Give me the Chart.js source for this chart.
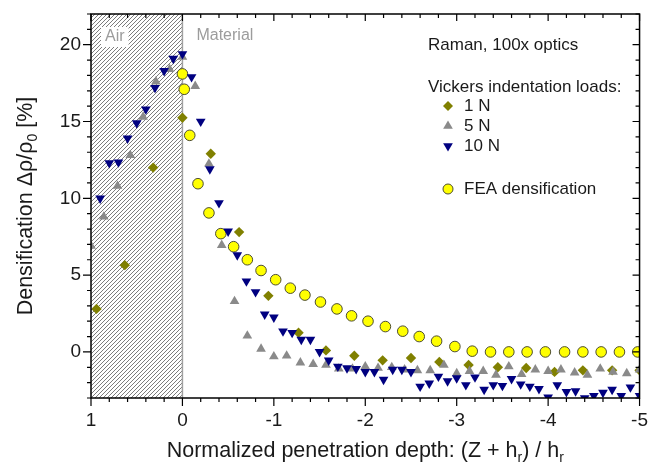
<!DOCTYPE html>
<html><head><meta charset="utf-8">
<script src="https://cdn.jsdelivr.net/npm/chart.js@4/dist/chart.umd.min.js"></script>
<style>html,body{margin:0;padding:0;background:#fff}</style>
</head><body>
<canvas id="c" width="651" height="464"></canvas>
<script>
// ---- data ----
const X_TICKS = [1, 0, -1, -2, -3, -4, -5];
const Y_TICKS = [0, 5, 10, 15, 20];

const xFEA = [0, -0.02, -0.08, -0.17, -0.29, -0.42, -0.56, -0.71, -0.86, -1.02, -1.18, -1.34, -1.51, -1.69, -1.85, -2.03, -2.22, -2.41, -2.59, -2.78, -2.98, -3.17, -3.37, -3.57, -3.77, -3.97, -4.18, -4.38, -4.58, -4.78, -4.98];
const yFEA = [18.1, 17.1, 14.1, 10.95, 9.05, 7.7, 6.85, 6.0, 5.3, 4.7, 4.15, 3.7, 3.25, 2.8, 2.35, 2.0, 1.65, 1.35, 1.0, 0.7, 0.35, 0.05, 0, 0, 0, 0, 0, 0, 0, 0, 0];

const x1N = [0.94, 0.63, 0.32, 0, -0.31, -0.62, -0.94, -1.27, -1.57, -1.88, -2.19, -2.50, -2.81, -3.13, -3.45, -3.76, -4.07, -4.38, -4.70, -5.0];
const y1N = [2.8, 5.65, 12.0, 15.25, 12.9, 7.8, 3.65, 1.25, 0.1, -0.25, -0.55, -0.4, -0.65, -0.85, -1.0, -1.05, -1.3, -1.2, -1.2, -1.2];

const x5N = [1.0, 0.86, 0.71, 0.57, 0.43, 0.29, 0.14, 0, -0.14, -0.29, -0.43, -0.57, -0.71, -0.86, -1.0, -1.14, -1.29, -1.43, -1.57, -1.71, -1.86, -2.0, -2.14, -2.29, -2.43, -2.57, -2.71, -2.86, -3.0, -3.14, -3.29, -3.43, -3.57, -3.71, -3.86, -4.0, -4.14, -4.29, -4.43, -4.57, -4.71, -4.86, -5.0];
const y5N = [6.9, 8.8, 10.8, 12.8, 15.3, 17.6, 18.4, 19.2, 17.3, 12.25, 6.95, 3.3, 1.05, 0.2, -0.3, -0.25, -0.7, -0.8, -0.85, -1.1, -1.1, -0.95, -1.05, -1.0, -1.15, -1.2, -1.2, -0.85, -1.4, -1.25, -1.25, -1.5, -0.95, -1.45, -1.15, -1.25, -1.15, -1.35, -1.5, -1.1, -1.3, -1.4, -1.15];

const x10N = [0.9, 0.8, 0.7, 0.6, 0.5, 0.4, 0.3, 0.2, 0.1, 0, -0.1, -0.2, -0.3, -0.4, -0.5, -0.6, -0.7, -0.8, -0.9, -1.0, -1.1, -1.2, -1.3, -1.4, -1.5, -1.6, -1.7, -1.8, -1.9, -2.0, -2.1, -2.2, -2.3, -2.4, -2.5, -2.6, -2.7, -2.8, -2.9, -3.0, -3.1, -3.2, -3.3, -3.4, -3.5, -3.6, -3.7, -3.8, -3.9, -4.0, -4.1, -4.2, -4.3, -4.4, -4.5, -4.6, -4.7, -4.8, -4.9, -5.0];
const y10N = [10.0, 12.3, 12.35, 13.9, 14.9, 15.8, 17.2, 18.3, 19.1, 19.4, 17.9, 15.0, 11.9, 9.7, 7.85, 6.3, 4.6, 3.9, 2.45, 2.25, 1.35, 1.25, 0.8, 0.8, 0.0, -0.55, -0.95, -1.05, -1.1, -1.3, -1.3, -1.8, -1.15, -1.15, -1.3, -2.25, -2.05, -1.6, -1.9, -1.7, -2.15, -1.65, -2.45, -2.15, -2.2, -1.75, -2.1, -2.25, -2.4, -2.95, -2.15, -2.6, -2.55, -3.0, -2.85, -2.65, -2.45, -2.85, -2.3, -2.85];

const SERIES_LABELS = ['1 N', '5 N', '10 N', 'FEA densification'];

// ---- styles ----
const FONT = '"Liberation Sans", Arial, Helvetica, sans-serif';
const TXT = '#1a1a1a';
const OLIVE = '#808000', GRAY = '#8a8a8a', NAVY = '#000080', YEL = '#ffff00', YEL_EDGE = '#4d4d33';

const pts = (xs, ys) => xs.map((v, i) => ({x: v, y: ys[i]}));

function marker(ctx, style, x, y, r) {
  ctx.beginPath();
  if (style === 'diamond') {
    ctx.moveTo(x, y - r); ctx.lineTo(x + r, y); ctx.lineTo(x, y + r); ctx.lineTo(x - r, y); ctx.closePath();
  } else if (style === 'up' || style === 'down') {
    const s = style === 'up' ? 1 : -1;
    for (let k = 0; k < 3; k++) {
      const a = k * 2 * Math.PI / 3;
      const px = x + Math.sin(a) * r, py = y - s * Math.cos(a) * r;
      if (k === 0) ctx.moveTo(px, py); else ctx.lineTo(px, py);
    }
    ctx.closePath();
  } else {
    ctx.arc(x, y, r, 0, Math.PI * 2);
  }
}

const deco = {
  id: 'deco',
  beforeDraw(chart) {
    const c = chart.ctx; c.save(); c.fillStyle = '#fff'; c.fillRect(0, 0, chart.width, chart.height); c.restore();
  },
  beforeDatasetsDraw(chart) {
    const {ctx, chartArea: a, scales: {x}} = chart;
    const xl = x.getPixelForValue(1), x0 = x.getPixelForValue(0);
    ctx.save();
    ctx.beginPath(); ctx.rect(xl, a.top, x0 - xl, a.bottom - a.top); ctx.clip();
    ctx.strokeStyle = '#5a5a5a'; ctx.lineWidth = 0.8;
    ctx.beginPath();
    const h = a.bottom - a.top;
    for (let s = xl - h; s < x0 + 4; s += 4) { ctx.moveTo(s, a.bottom); ctx.lineTo(s + h, a.top); }
    ctx.stroke();
    ctx.restore();
    ctx.save();
    ctx.strokeStyle = '#a0a0a0'; ctx.lineWidth = 1.5;
    ctx.beginPath(); ctx.moveTo(x0, a.top); ctx.lineTo(x0, a.bottom); ctx.stroke();
    ctx.font = '16px ' + FONT; ctx.textBaseline = 'middle'; ctx.textAlign = 'left';
    const w = ctx.measureText('Air').width;
    ctx.fillStyle = '#fff'; ctx.fillRect(xl + 10, a.top + 13, w + 8, 20);
    ctx.fillStyle = '#9c9c9c';
    ctx.fillText('Air', xl + 14, a.top + 23);
    ctx.fillText('Material', x0 + 14, a.top + 22);
    ctx.restore();
  },
  afterDraw(chart) {
    const {ctx, chartArea: a, scales: {x, y}} = chart;
    ctx.save();
    // frame
    ctx.strokeStyle = '#000'; ctx.lineWidth = 1.5;
    ctx.strokeRect(a.left, a.top, a.right - a.left, a.bottom - a.top);
    // ticks
    ctx.lineWidth = 1.2;
    ctx.beginPath();
    for (let i = 0; i <= 30; i++) {
      const v = 1 - i * 0.2;
      const major = Math.abs(v - Math.round(v)) < 1e-6;
      const px = x.getPixelForValue(v);
      const lo = major ? 8 : 4, li = major ? 7 : 4;
      ctx.moveTo(px, a.bottom); ctx.lineTo(px, a.bottom + lo);
      ctx.moveTo(px, a.top); ctx.lineTo(px, a.top + li);
    }
    for (let v = -3; v <= 22; v++) {
      const major = v % 5 === 0;
      const py = y.getPixelForValue(v);
      const lo = major ? 8 : 4, li = major ? 7 : 4;
      ctx.moveTo(a.left - lo, py); ctx.lineTo(a.left, py);
      ctx.moveTo(a.right - li, py); ctx.lineTo(a.right, py);
    }
    ctx.stroke();

    // legend block
    ctx.fillStyle = TXT; ctx.font = '17px ' + FONT; ctx.textBaseline = 'middle'; ctx.textAlign = 'left';
    ctx.fillText('Raman, 100x optics', 428, 45);
    ctx.fillText('Vickers indentation loads:', 428, 87);
    const items = [
      {style: 'diamond', fill: OLIVE, edge: null, r: 5, y: 106, label: SERIES_LABELS[0]},
      {style: 'up', fill: GRAY, edge: null, r: 5.6, y: 126, label: SERIES_LABELS[1]},
      {style: 'down', fill: NAVY, edge: null, r: 5.6, y: 146, label: SERIES_LABELS[2]},
      {style: 'circle', fill: YEL, edge: YEL_EDGE, r: 5, y: 189, label: SERIES_LABELS[3]}
    ];
    items.forEach(it => {
      marker(ctx, it.style, 448, it.y, it.r);
      ctx.fillStyle = it.fill; ctx.fill();
      if (it.edge) { ctx.strokeStyle = it.edge; ctx.lineWidth = 1; ctx.stroke(); }
      ctx.fillStyle = TXT;
      ctx.fillText(it.label, 464, it.y);
    });

    // x axis title with subscripts
    const big = '21.5px ' + FONT, small = '14px ' + FONT;
    const xParts = [['Normalized penetration depth: (Z + h', 0], ['r', 1], [') / h', 0], ['r', 1]];
    const measure = parts => parts.reduce((s, p) => { ctx.font = p[1] ? small : big; return s + ctx.measureText(p[0]).width; }, 0);
    let tw = measure(xParts);
    let cx = (a.left + a.right) / 2 - tw / 2;
    const ty = 450;
    ctx.fillStyle = TXT; ctx.textBaseline = 'alphabetic';
    xParts.forEach(p => {
      ctx.font = p[1] ? small : big;
      ctx.fillText(p[0], cx, ty + 7 + (p[1] ? 5 : 0));
      cx += ctx.measureText(p[0]).width;
    });
    // y axis title
    const yParts = [['Densification \u0394\u03c1/\u03c1', 0], ['0', 1], [' [%]', 0]];
    tw = measure(yParts);
    ctx.save();
    ctx.translate(25, (a.top + a.bottom) / 2);
    ctx.rotate(-Math.PI / 2);
    let sx = -tw / 2;
    yParts.forEach(p => {
      ctx.font = p[1] ? small : big;
      ctx.fillText(p[0], sx, 7 + (p[1] ? 5 : 0));
      sx += ctx.measureText(p[0]).width;
    });
    ctx.restore();
    ctx.restore();
  }
};

new Chart(document.getElementById('c'), {
  type: 'scatter',
  data: {
    datasets: [
      {label: SERIES_LABELS[2], data: pts(x10N, y10N), pointStyle: 'triangle', rotation: 180, pointRadius: 5.6, backgroundColor: NAVY, borderColor: NAVY, borderWidth: 0, order: 0, clip: 0},
      {label: SERIES_LABELS[1], data: pts(x5N, y5N), pointStyle: 'triangle', pointRadius: 5.6, backgroundColor: GRAY, borderColor: GRAY, borderWidth: 0, order: 1, clip: 0},
      {label: SERIES_LABELS[0], data: pts(x1N, y1N), pointStyle: 'rectRot', pointRadius: 5.2, backgroundColor: OLIVE, borderColor: OLIVE, borderWidth: 0, order: 2, clip: 0},
      {label: SERIES_LABELS[3], data: pts(xFEA, yFEA), pointStyle: 'circle', pointRadius: 5.3, backgroundColor: YEL, borderColor: YEL_EDGE, borderWidth: 1, order: 3, clip: 0}
    ]
  },
  options: {
    responsive: false, animation: false, devicePixelRatio: 1,
    layout: {padding: {top: 14, right: 8, left: 0, bottom: 0}},
    plugins: {legend: {display: false}, tooltip: {enabled: false}},
    scales: {
      x: {
        type: 'linear', reverse: true, min: -5, max: 1,
        afterBuildTicks(s) { s.ticks = X_TICKS.map(v => ({value: v})); },
        afterFit(s) { s.height = 66; },
        grid: {display: false, tickLength: 8},
        border: {display: false},
        ticks: {font: {family: FONT, size: 19}, color: TXT, padding: 3, maxRotation: 0, autoSkip: false, callback: v => String(v)}
      },
      y: {
        type: 'linear', min: -3, max: 22,
        afterBuildTicks(s) { s.ticks = Y_TICKS.map(v => ({value: v})); },
        afterFit(s) { s.width = 91; },
        grid: {display: false, tickLength: 8},
        border: {display: false},
        ticks: {font: {family: FONT, size: 19}, color: TXT, padding: 2, autoSkip: false, callback: v => String(v)}
      }
    }
  },
  plugins: [deco]
});
</script>
</body></html>
